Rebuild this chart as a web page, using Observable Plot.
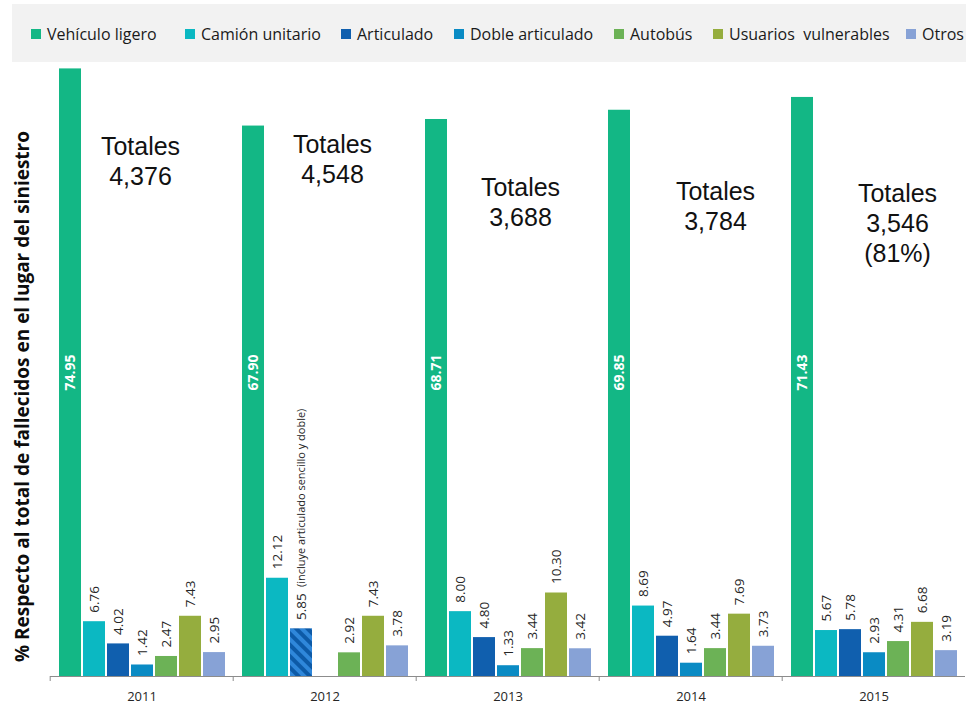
<!DOCTYPE html>
<html><head><meta charset="utf-8">
<script src="https://cdn.jsdelivr.net/npm/d3@7"></script>
<script src="https://cdn.jsdelivr.net/npm/@observablehq/plot@0.6"></script>
<style>
body{margin:0;background:#fff;font-family:"Open Sans",sans-serif;}
#wrap{position:relative;width:966px;height:706px;overflow:hidden;}
#legend{position:relative;height:62px;}
#band{position:absolute;left:12px;top:4px;width:954px;height:58px;background:#f2f2f2;}
.item{position:absolute;top:24px;height:19px;display:flex;align-items:center;font-size:16px;color:#1a1a1a;white-space:pre;}
.sw{width:10px;height:10px;margin-right:6px;flex:none;}
#chart svg{display:block;overflow:visible;}
</style></head>
<body><div id="wrap"><div id="legend"><div id="band"></div></div><div id="chart"></div></div>
<script>
const years = [2011, 2012, 2013, 2014, 2015];
const categories = ["Vehículo ligero", "Camión unitario", "Articulado", "Doble articulado", "Autobús", "Usuarios  vulnerables", "Otros"];
const colors = ["#13b785", "#0bb8c2", "#105fae", "#0a8bc4", "#6cb256", "#95ad3e", "#87a2d6"];
const vehiculoLigero = [74.95, 67.90, 68.71, 69.85, 71.43];
const camionUnitario = [6.76, 12.12, 8.00, 8.69, 5.67];
const articulado = [4.02, 5.85, 4.80, 4.97, 5.78];
const dobleArticulado = [1.42, null, 1.33, 1.64, 2.93];
const autobus = [2.47, 2.92, 3.44, 3.44, 4.31];
const usuariosVulnerables = [7.43, 7.43, 10.30, 7.69, 6.68];
const otros = [2.95, 3.78, 3.42, 3.73, 3.19];
const totales = ["4,376", "4,548", "3,688", "3,784", "3,546"];
const totalesPct = [null, null, null, null, "(81%)"];
const noteYear = 2012;
const noteCategory = "Articulado";
const noteText = "(incluye articulado sencillo y doble)";
const yLabel = "% Respecto al total de fallecidos en el lugar del siniestro";

// layout (pixels)
const legendX = [31, 185, 341, 454, 614, 713, 906];
const totDx = [-2, 7, 12, 24, 23];
const totDy = [65, 63, 106, 110, 112];

const series = [vehiculoLigero, camionUnitario, articulado, dobleArticulado, autobus, usuariosVulnerables, otros];
const rows = [];
years.forEach((yr, i) => categories.forEach((c, j) => {
  const v = series[j][i];
  if (v != null) rows.push({year: yr, cat: c, value: v});
}));

// legend
const legend = d3.select("#legend");
categories.forEach((c, j) => {
  const it = legend.append("div").attr("class", "item").style("left", legendX[j] + "px");
  it.append("div").attr("class", "sw").style("background", colors[j]);
  it.append("span").text(c);
});

const isNote = d => d.year === noteYear && d.cat === noteCategory;
const totMarks = years.map((yr, i) => Plot.text([{year: yr, t: "Totales\n" + totales[i] + (totalesPct[i] ? "\n" + totalesPct[i] : "")}], {
  fx: "year", x: () => categories[3], frameAnchor: "top", text: "t", lineAnchor: "top", textAnchor: "middle",
  dx: totDx[i], dy: totDy[i], fontSize: 25, lineHeight: 1.2, fontFamily: "Liberation Sans, Arial, sans-serif", fill: "#111"
}));

const chart = Plot.plot({
  width: 966, height: 644,
  marginLeft: 48, marginRight: 0, marginTop: 6, marginBottom: 30,
  style: {fontFamily: "Open Sans, sans-serif", fontSize: "13px", color: "#262626", background: "transparent", overflow: "visible"},
  fx: {domain: years, paddingInner: 0, paddingOuter: 0, label: null, tickFormat: d => String(d)},
  x: {domain: categories, paddingInner: 0.1, paddingOuter: 0.32, axis: null},
  y: {domain: [0, 75], axis: null},
  color: {domain: categories, range: colors},
  marks: [
    Plot.barY(rows, {fx: "year", x: "cat", y: "value", fill: "cat"}),
    Plot.barY(rows.filter(isNote), {fx: "year", x: "cat", y: "value", fill: "url(#hatch)"}),
    Plot.ruleY([0], {stroke: "#8c8c8c"}),
    Plot.text(rows.filter(d => d.cat === categories[0]), {fx: "year", x: "cat", frameAnchor: "middle", text: d => d.value.toFixed(2), rotate: -90, textAnchor: "middle", lineAnchor: "middle", fill: "white", fontWeight: "bold", fontSize: 14}),
    Plot.text(rows.filter(d => d.cat !== categories[0]), {fx: "year", x: "cat", y: "value", text: d => d.value.toFixed(2), rotate: -90, textAnchor: "start", lineAnchor: "middle", dy: -9, fill: "#262626", fontSize: 13.5}),
    Plot.text(rows.filter(isNote), {fx: "year", x: "cat", y: "value", text: () => noteText, rotate: -90, textAnchor: "start", lineAnchor: "middle", dy: -42, fill: "#262626", fontSize: 11}),
    ...totMarks,
    Plot.text([{year: years[0], t: yLabel}], {fx: "year", frameAnchor: "left", text: "t", rotate: -90, textAnchor: "middle", lineAnchor: "middle", dx: -28, dy: 24, fontWeight: "bold", fontSize: 19, fill: "#0d0d0d"}),
    Plot.axisFx({anchor: "bottom", tickSize: 5, tickFormat: () => "", dx: -91.8, stroke: "#8c8c8c", label: null}),
    Plot.axisFx({anchor: "bottom", tickSize: 0, tickPadding: 15, fontSize: 13, fill: "#262626", label: null, tickFormat: d => String(d)})
  ]
});

const ns = "http://www.w3.org/2000/svg";
const defs = document.createElementNS(ns, "defs");
defs.innerHTML = '<pattern id="hatch" patternUnits="userSpaceOnUse" width="8" height="8" patternTransform="rotate(-45)"><rect width="8" height="8" fill="#0d5aa7"/><rect width="4" height="8" fill="#2f87da"/></pattern>';
chart.prepend(defs);
document.getElementById("chart").appendChild(chart);
</script>
</body></html>
